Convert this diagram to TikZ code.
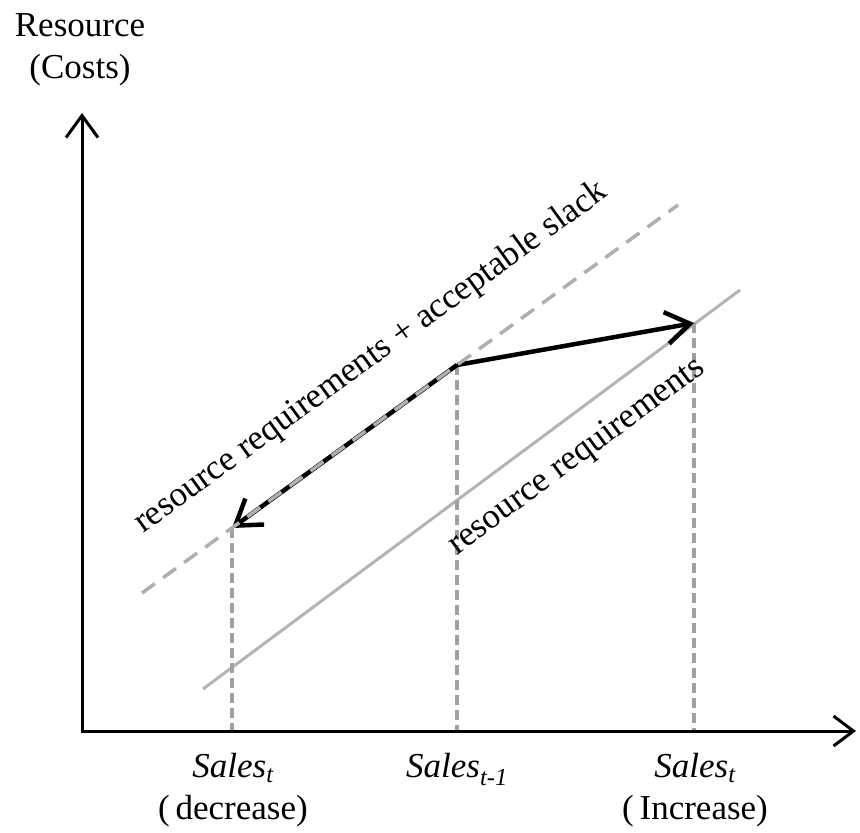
\documentclass[tikz,border=0pt]{standalone}
\usepackage{fontspec}
\setmainfont{Liberation Serif}
\usetikzlibrary{arrows.meta}

\definecolor{reqgray}{RGB}{180,180,180}
\definecolor{slackgray}{RGB}{175,175,175}
\definecolor{dropgray}{RGB}{160,160,160}

\tikzset{
    axis/.style={line width=3pt, {Straight Barb[length=22pt,width=32pt]}-{Straight Barb[length=20pt,width=30pt]}},
    move/.style={line width=4.5pt, -{Straight Barb[length=24pt,width=32pt]}},
    reqline/.style={line width=3pt, reqgray},
    slackline/.style={line width=3.5pt, slackgray, dash pattern=on 16pt off 10pt},
    dropline/.style={line width=3.5pt, dropgray, dash pattern=on 10pt off 5pt},
    lbl/.style={inner sep=0pt, align=center, font=\fontsize{35}{42}\selectfont},
}

\begin{document}
\begin{tikzpicture}[x=1pt, y=-1pt]
    \useasboundingbox (0,0) rectangle (860,833);

    % axes
    \coordinate (O) at (82,731);
    \coordinate (ytip) at (82,113);
    \coordinate (xtip) at (856,731);

    % points on the lines
    \coordinate (prev) at (457,365);
    \coordinate (dec) at (232,528);
    \coordinate (inc) at (694,323);
    \coordinate (prev0) at (457,731);
    \coordinate (dec0) at (232,731);
    \coordinate (inc0) at (694,731);

    % requirement lines
    \coordinate (req1) at (203,689);
    \coordinate (req2) at (740,290);
    \coordinate (slack1) at (142,593);
    \coordinate (slack2) at (678,205);

    \draw [reqline] (req1) -- (req2);

    \draw [dropline] (prev) -- (prev0);
    \draw [dropline] (dec) -- (dec0);
    \draw [dropline] (inc) -- (inc0);

    \draw [move] (prev) -- (inc);
    \draw [move] (prev) -- (dec);
    \draw [slackline] (slack1) -- (slack2);

    \draw [axis] (ytip) -- (O) -- (xtip);

    \node [lbl, anchor=north] (reslabel) at (80,13) {Resource\\(Costs)};

    \node [lbl, rotate=36] (slacklabel) at (371,358) {resource requirements + acceptable slack};
    \node [lbl, rotate=36.5] (reqlabel) at (577,457) {resource requirements};

    \node [lbl, anchor=north] (declabel) at (233,753) {\textit{Sales\textsubscript{t}}\\(\,decrease)};
    \node [lbl, anchor=north] (prevlabel) at (457,753) {\textit{Sales\textsubscript{t-1}}};
    \node [lbl, anchor=north] (inclabel) at (695,753) {\textit{Sales\textsubscript{t}}\\(\,Increase)};
\end{tikzpicture}
\end{document}
